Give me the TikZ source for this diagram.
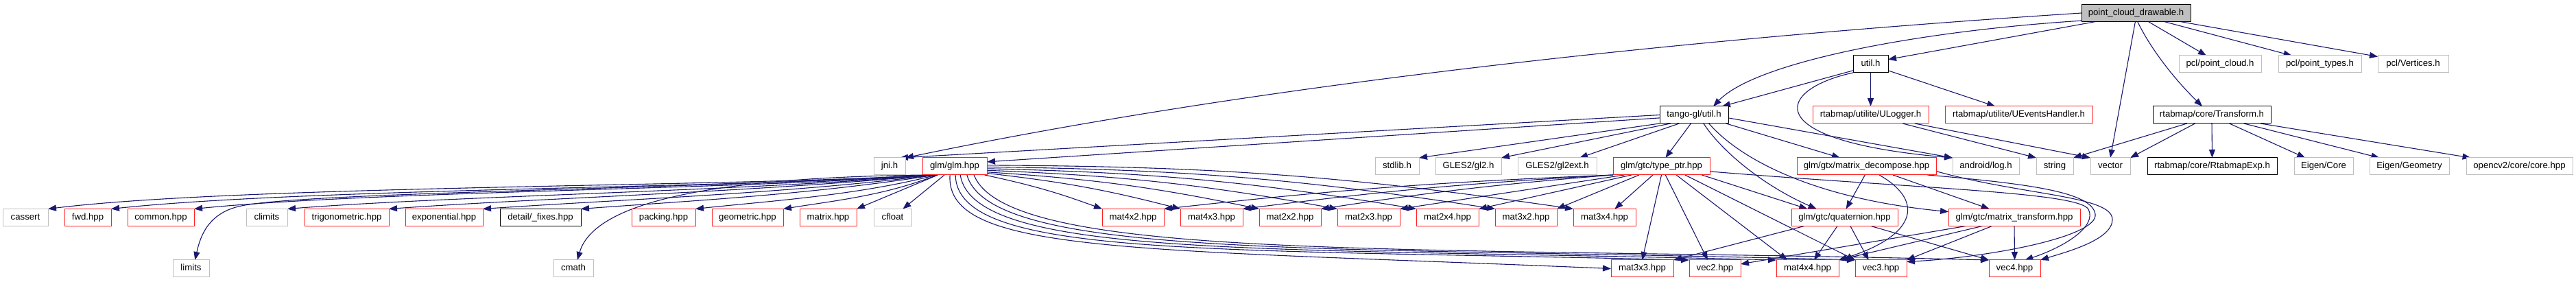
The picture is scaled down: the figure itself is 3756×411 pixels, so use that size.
\documentclass[tikz,border=0pt]{standalone}
\usepackage{fontspec}
\setmainfont{Liberation Sans}
\usetikzlibrary{arrows.meta}
\definecolor{dedge}{HTML}{191970}
\definecolor{dred}{HTML}{FF2020}
\definecolor{dgray}{HTML}{BFBFBF}
\pgfdeclarelayer{background}
\pgfsetlayers{background,main}
\begin{document}
\begin{tikzpicture}[x=1pt,y=1pt,
  box/.style={draw, line width=1pt, minimum height=25pt, inner sep=0pt, outer sep=0pt, fill=white,
    text height=9.6pt, text depth=2.8pt, font=\fontsize{13.2pt}{15pt}\selectfont},
  rbox/.style={box, draw=dred},
  gbox/.style={box, draw=dgray},
  kbox/.style={box, draw=black},
  root/.style={box, draw=black, fill=dgray},
  edge/.style={draw=dedge, line width=1.1pt, -{Triangle[length=12pt,width=9pt]}}]
\useasboundingbox (0,0) rectangle (3756,-411);
% row 0
\node[root, minimum width=159pt] (pcd) at (3114.5,-19) {point\_cloud\_drawable.h};
% row 1
\node[kbox, minimum width=51pt] (utilh) at (2727.5,-93.5) {util.h};
\node[gbox, minimum width=120pt] (pclpc) at (3237,-93.5) {pcl/point\_cloud.h};
\node[gbox, minimum width=121pt] (pclpt) at (3382.5,-93.5) {pcl/point\_types.h};
\node[gbox, minimum width=103pt] (pclv) at (3518.5,-93.5) {pcl/Vertices.h};
% row 2
\node[kbox, minimum width=100pt] (tango) at (2470,-167.5) {tango-gl/util.h};
\node[rbox, minimum width=169pt] (ulog) at (2727.5,-167.5) {rtabmap/utilite/ULogger.h};
\node[rbox, minimum width=215pt] (ueh) at (2943.5,-167.5) {rtabmap/utilite/UEventsHandler.h};
\node[kbox, minimum width=172pt] (trf) at (3225,-167.5) {rtabmap/core/Transform.h};
% row 3
\node[gbox, minimum width=46pt] (jni) at (1297,-242.5) {jni.h};
\node[rbox, minimum width=94pt] (glm) at (1392,-242.5) {glm/glm.hpp};
\node[gbox, minimum width=64pt] (stdlib) at (2037,-242.5) {stdlib.h};
\node[gbox, minimum width=96pt] (gl2) at (2141,-242.5) {GLES2/gl2.h};
\node[gbox, minimum width=115pt] (gl2ext) at (2270.5,-242.5) {GLES2/gl2ext.h};
\node[rbox, minimum width=141pt] (typeptr) at (2422.5,-242.5) {glm/gtc/type\_ptr.hpp};
\node[rbox, minimum width=203pt] (mdec) at (2721.5,-242.5) {glm/gtx/matrix\_decompose.hpp};
\node[gbox, minimum width=97pt] (alog) at (2895.5,-242.5) {android/log.h};
\node[gbox, minimum width=54pt] (strg) at (2996,-242.5) {string};
\node[gbox, minimum width=58pt] (vect) at (3077,-242.5) {vector};
\node[kbox, minimum width=189pt] (rexp) at (3225.5,-242.5) {rtabmap/core/RtabmapExp.h};
\node[gbox, minimum width=86pt] (ecore) at (3388,-242.5) {Eigen/Core};
\node[gbox, minimum width=116pt] (egeom) at (3513,-242.5) {Eigen/Geometry};
\node[gbox, minimum width=155pt] (opencv) at (3673.5,-242.5) {opencv2/core/core.hpp};
% row 4
\node[gbox, minimum width=66pt] (cassert) at (37,-317) {cassert};
\node[rbox, minimum width=68pt] (fwd) at (128,-317) {fwd.hpp};
\node[rbox, minimum width=97pt] (common) at (234.5,-317) {common.hpp};
\node[gbox, minimum width=60pt] (climits) at (389,-317) {climits};
\node[rbox, minimum width=123pt] (trig) at (505.5,-317) {trigonometric.hpp};
\node[rbox, minimum width=113pt] (expo) at (647.5,-317) {exponential.hpp};
\node[kbox, minimum width=118pt] (fixes) at (788,-317) {detail/\_fixes.hpp};
\node[rbox, minimum width=93pt] (packing) at (967.5,-317) {packing.hpp};
\node[rbox, minimum width=104pt] (geometric) at (1090,-317) {geometric.hpp};
\node[rbox, minimum width=83pt] (matrixn) at (1207.5,-317) {matrix.hpp};
\node[gbox, minimum width=55pt] (cfloat) at (1301.5,-317) {cfloat};
\node[rbox, minimum width=90pt] (m42) at (1652,-317) {mat4x2.hpp};
\node[rbox, minimum width=91pt] (m43) at (1766.5,-317) {mat4x3.hpp};
\node[rbox, minimum width=90pt] (m22) at (1881,-317) {mat2x2.hpp};
\node[rbox, minimum width=91pt] (m23) at (1995.5,-317) {mat2x3.hpp};
\node[rbox, minimum width=91pt] (m24) at (2110.5,-317) {mat2x4.hpp};
\node[rbox, minimum width=90pt] (m32) at (2225,-317) {mat3x2.hpp};
\node[rbox, minimum width=91pt] (m34) at (2339.5,-317) {mat3x4.hpp};
\node[rbox, minimum width=155pt] (quat) at (2689.5,-317) {glm/gtc/quaternion.hpp};
\node[rbox, minimum width=192pt] (mtrans) at (2937,-317) {glm/gtc/matrix\_transform.hpp};
% row 5
\node[gbox, minimum width=53pt] (limits) at (278.5,-391.5) {limits};
\node[gbox, minimum width=58pt] (cmath) at (836,-391.5) {cmath};
\node[rbox, minimum width=91pt] (m33) at (2394.5,-391.5) {mat3x3.hpp};
\node[rbox, minimum width=75pt] (vec2) at (2500.5,-391.5) {vec2.hpp};
\node[rbox, minimum width=91pt] (m44) at (2635.5,-391.5) {mat4x4.hpp};
\node[rbox, minimum width=75pt] (vec3) at (2742.5,-391.5) {vec3.hpp};
\node[rbox, minimum width=75pt] (vec4) at (2937.5,-391.5) {vec4.hpp};

\begin{pgfonlayer}{background}
\fill[white] (0,0) rectangle (3756,-411);
% root
\draw[edge] (pcd.west) .. controls (2400,-60) and (1800,-130) .. (jni.north east);
\draw[edge] (pcd.188) .. controls (2800,-45) and (2560,-90) .. (tango.24);
\draw[edge] (pcd.192) -- (utilh.15);
\draw[edge] (pcd.265) -- (vect.north);
\draw[edge] (pcd.-80) .. controls (3135,-70) and (3170,-115) .. (trf.138);
\draw[edge] (pcd.-35) -- (pclpc.148);
\draw[edge] (pcd.-17) -- (pclpt.163);
\draw[edge] (pcd.-11) -- (pclv.168);
% util.h
\draw[edge] (utilh.200) -- (tango.17);
\draw[edge] (utilh.south) -- (ulog.north);
\draw[edge] (utilh.-20) -- (ueh.160);
\draw[edge] (utilh.south west) .. controls (2590,-130) and (2560,-205) .. (alog.north west);
% tango-gl/util.h
\draw[edge] (tango.180) -- (jni.40);
\draw[edge] (tango.185) -- (glm.8);
\draw[edge] (tango.194) -- (stdlib.north east);
\draw[edge] (tango.200) -- (gl2.north east);
\draw[edge] (tango.210) -- (gl2ext.21);
\draw[edge] (tango.250) -- (typeptr.65);
\draw[edge] (tango.-15) -- (mdec.162);
\draw[edge] (tango.-5) -- (alog.north west);
\draw[edge] (tango.-42) .. controls (2510,-220) and (2570,-270) .. (quat.163);
\draw[edge] (tango.-30) .. controls (2540,-235) and (2650,-290) .. (mtrans.175);
% glm left
\draw[edge] (glm.197) .. controls (1100,-272) and (350,-270) .. (cassert.north east);
\draw[edge] (glm.198) .. controls (1100,-274) and (450,-274) .. (fwd.north east);
\draw[edge] (glm.199) .. controls (1100,-276) and (550,-278) .. (common.north east);
\draw[edge] (glm.200) .. controls (1000,-276) and (450,-280) .. (352,-300) .. controls (303,-310) and (292,-345) .. (limits.65);
\draw[edge] (glm.201) .. controls (1100,-278) and (650,-286) .. (climits.north east);
\draw[edge] (glm.202) .. controls (1100,-280) and (780,-289) .. (trig.north east);
\draw[edge] (glm.203) .. controls (1150,-282) and (900,-291) .. (expo.north east);
\draw[edge] (glm.204) .. controls (1180,-284) and (1000,-293) .. (fixes.north east);
\draw[edge] (glm.196) .. controls (1100,-258) and (870,-282) .. (cmath.65);
\draw[edge] (glm.205) .. controls (1250,-285) and (1120,-293) .. (packing.north east);
\draw[edge] (glm.206) .. controls (1290,-285) and (1220,-292) .. (geometric.north east);
\draw[edge] (glm.207) -- (matrixn.north east);
\draw[edge] (glm.220) -- (cfloat.40);
% glm right
\draw[edge] (glm.-16) to[bend left=4] (m42.north west);
\draw[edge] (glm.-12) to[bend left=4] (m43.north west);
\draw[edge] (glm.-10) to[bend left=4] (m22.north west);
\draw[edge] (glm.-7) to[bend left=4] (m23.north west);
\draw[edge] (glm.-4) to[bend left=4] (m24.north west);
\draw[edge] (glm.-1) to[bend left=4] (m32.north west);
\draw[edge] (glm.2) to[bend left=4] (m34.north west);
% glm bottom
\draw[edge] (glm.-119) .. controls (1378,-370) and (1650,-362) .. (m33.west);
\draw[edge] (glm.-85) .. controls (1395,-375) and (1750,-362) .. (vec2.north west);
\draw[edge] (glm.-57) .. controls (1420,-378) and (1850,-360) .. (m44.north west);
\draw[edge] (glm.-35) .. controls (1445,-380) and (1950,-358) .. (vec3.north west);
\draw[edge] (glm.-24) .. controls (1470,-382) and (2050,-358) .. (vec4.north west);
% type_ptr
\draw[edge] (typeptr.south west) to[bend right=2] (m42.north east);
\draw[edge] (typeptr.south west) to[bend right=2] (m43.north east);
\draw[edge] (typeptr.190) to[bend right=2] (m22.north east);
\draw[edge] (typeptr.193) -- (m23.north east);
\draw[edge] (typeptr.196) -- (m24.north east);
\draw[edge] (typeptr.201) -- (m32.north east);
\draw[edge] (typeptr.225) -- (m34.40);
\draw[edge] (typeptr.south) -- (m33.north);
\draw[edge] (typeptr.-65) -- (vec2.130);
\draw[edge] (typeptr.-30) -- (m44.157);
\draw[edge] (typeptr.-20) -- (vec3.north west);
\draw[edge] (typeptr.-12) -- (quat.167);
\draw[edge] (typeptr.-6) .. controls (2800,-275) and (3030,-280) .. (3045,-305) .. controls (3058,-330) and (3010,-360) .. (vec4.40);
% matrix_decompose
\draw[edge] (mdec.-100) -- (quat.80);
\draw[edge] (mdec.-34) .. controls (2810,-295) and (2790,-345) .. (m44.north east);
\draw[edge] (mdec.-18) -- (mtrans.161);
\draw[edge] (mdec.-8) .. controls (2960,-268) and (3050,-280) .. (3055,-312) .. controls (3060,-345) and (2900,-375) .. (vec3.15);
\draw[edge] (mdec.-4) .. controls (2950,-285) and (3080,-285) .. (3080,-320) .. controls (3080,-350) and (3010,-368) .. (vec4.north east);
% quaternion
\draw[edge] (quat.192) -- (m33.north east);
\draw[edge] (quat.-130) -- (m44.53);
\draw[edge] (quat.-56) -- (vec3.145);
\draw[edge] (quat.-18) -- (vec4.north west);
% matrix_transform
\draw[edge] (mtrans.190) -- (vec2.10);
\draw[edge] (mtrans.195) -- (m44.north east);
\draw[edge] (mtrans.201) -- (vec3.north east);
\draw[edge] (mtrans.south) -- (vec4.north);
% ULogger
\draw[edge] (ulog.-15) -- (strg.north west);
\draw[edge] (ulog.-11) -- (vect.north west);
% Transform
\draw[edge] (trf.199) -- (strg.north east);
\draw[edge] (trf.207) -- (vect.north east);
\draw[edge] (trf.south) -- (rexp.north);
\draw[edge] (trf.-26) -- (ecore.155);
\draw[edge] (trf.-15) -- (egeom.164);
\draw[edge] (trf.-10) -- (opencv.170);
\end{pgfonlayer}
\end{tikzpicture}
\end{document}
